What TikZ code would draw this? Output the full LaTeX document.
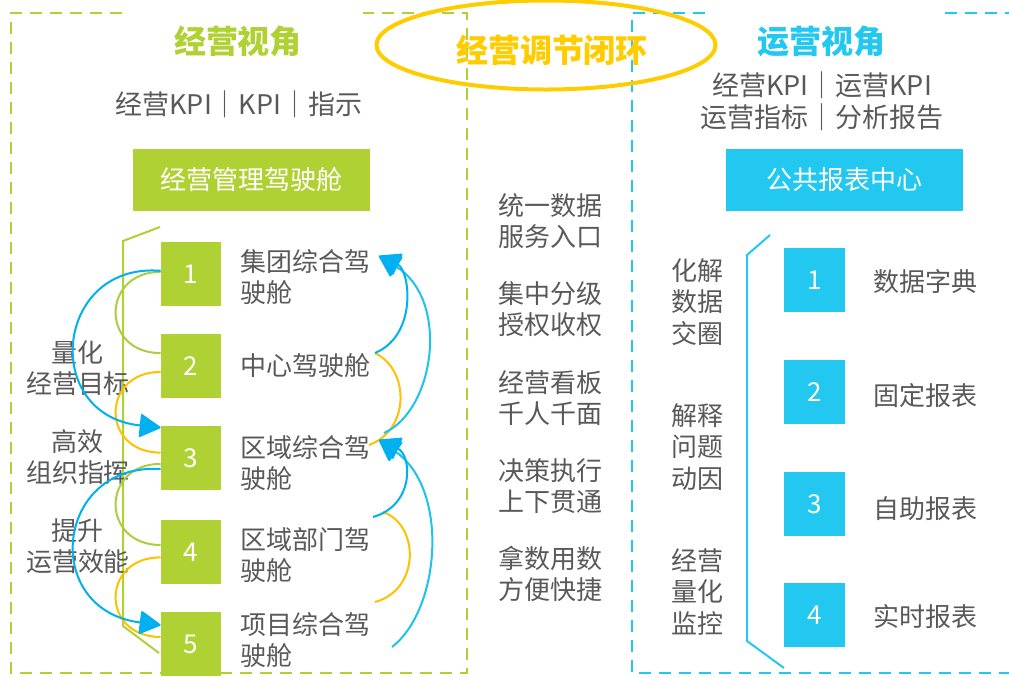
\documentclass[tikz,border=0pt]{standalone}
\usepackage{fontspec}
\setmainfont{Noto Sans CJK SC}
\usetikzlibrary{arrows.meta,shapes.geometric}
\definecolor{jygreen}{HTML}{B0D134}
\definecolor{arcgreen}{HTML}{A9CF3F}
\definecolor{yyblue}{HTML}{22C8F0}
\definecolor{arrblue}{HTML}{00B0F0}
\definecolor{ltblue}{HTML}{1FC2EE}
\definecolor{arcorange}{HTML}{FFC000}
\definecolor{loopgold}{HTML}{FFCC00}
\definecolor{txtgray}{HTML}{595959}
\tikzset{
  title/.style={font=\fontsize{16}{18}\selectfont\bfseries, inner sep=0pt},
  lbl/.style={text=txtgray, font=\fontsize{13}{15.5}\selectfont, inner sep=0pt},
  bigbox/.style={minimum width=118.5pt, minimum height=31pt, inner sep=0pt,
    text=white, font=\fontsize{13}{15}\selectfont},
  numbox/.style={minimum width=30pt, minimum height=32pt, inner sep=0pt,
    text=white, font=\fontsize{13}{15}\selectfont},
  frame/.style={line width=1.2pt, dash pattern=on 6pt off 4pt},
  garc/.style={arcgreen, line width=1pt},
  oarc/.style={arcorange, line width=1pt},
  barr/.style={arrblue, line width=1pt,
    -{Triangle[length=11pt,width=12pt,round,color=arrblue,fill=arrblue]}},
}
\begin{document}
\begin{tikzpicture}[x=0.5pt, y=-0.5pt]
\useasboundingbox (0,0) rectangle (1009,677);
% frames
\draw[frame, jygreen] (122,13) -- (11,13) -- (11,673) -- (467,673) -- (467,13) -- (363,13);
\draw[frame, yyblue] (705,13) -- (632,13) -- (632,673) -- (1009,673);
\draw[frame, yyblue] (945,13) -- (1009,13);
% loop
\node[draw=loopgold, line width=2pt, ellipse, minimum width=169.5pt, minimum height=44.5pt] (loop) at (546,45) {};
\node[title, text=loopgold] (looptext) at (552,50) {经营调节闭环};

% left panel
\node[title, text=jygreen] (ltitle) at (238,41) {经营视角};
\node[lbl, font=\fontsize{13.5}{16}\selectfont] (lsub) at (239,104) {经营KPI｜KPI｜指示};
\node[bigbox, fill=jygreen] (lbox) at (251.5,180) {经营管理驾驶舱};
\draw[jygreen, line width=1pt] (160,227) -- (123,241) -- (123,626) -- (159,653);
\foreach \i/\y in {1/274,2/366,3/458,4/552,5/644}
  \node[numbox, fill=jygreen] (b\i) at (191,\y) {\i};
\node[lbl, anchor=west, align=left] (l1) at (240,277) {集团综合驾\\驶舱};
\node[lbl, anchor=west] (l2) at (240,366) {中心驾驶舱};
\node[lbl, anchor=west, align=left] (l3) at (240,463) {区域综合驾\\驶舱};
\node[lbl, anchor=west, align=left] (l4) at (240,555) {区域部门驾\\驶舱};
\node[lbl, anchor=west, align=left] (l5) at (240,640) {项目综合驾\\驶舱};
\node[lbl, align=center] (g1) at (78,368) {量化\\经营目标};
\node[lbl, align=center] (g2) at (78,457) {高效\\组织指挥};
\node[lbl, align=center] (g3) at (78,546) {提升\\运营效能};
% arcs left
\draw[garc] (b1.176) .. controls +(-60,0) and +(-60,0) .. (b2.157);
\draw[oarc] (b2.191) .. controls +(-60,0) and +(-60,0) .. (b3.170);
\draw[garc] (b3.191) .. controls +(-60,0) and +(-60,0) .. (b4.167);
\draw[oarc] (b4.190) .. controls +(-60,0) and +(-60,0) .. (b5.167);
\draw[barr] (b1.174) .. controls (55,262) and (40,415) .. (b3.135);
\draw[barr] (b3.200) .. controls (55,462) and (40,610) .. (b5.148);
% arcs right
\coordinate (t1) at (379,256);
\coordinate (t3) at (379,440);
\coordinate (s2) at (375,353);
\coordinate (e3) at (369,445);
\coordinate (s3) at (384,433);
\coordinate (s4a) at (373,517);
\coordinate (s4b) at (383,512);
\coordinate (e5) at (375,602);
\coordinate (s5) at (392,647);
\draw[oarc] (s2) .. controls (410,370) and (410,430) .. (e3);
\draw[oarc] (s4b) .. controls (420,525) and (420,590) .. (e5);
\draw[barr, draw=ltblue] (s3) .. controls (435,410) and (450,300) .. (t1);
\draw[barr, draw=ltblue] (s5) .. controls (440,610) and (450,490) .. (t3);
\draw[barr] (s2) .. controls (418,335) and (410,270) .. (t1);
\draw[barr] (s4a) .. controls (415,505) and (412,455) .. (t3);

% middle
\node[lbl, align=center] (m1) at (550,221) {统一数据\\服务入口};
\node[lbl, align=center] (m2) at (550,309) {集中分级\\授权收权};
\node[lbl, align=center] (m3) at (550,398) {经营看板\\千人千面};
\node[lbl, align=center] (m4) at (550,486) {决策执行\\上下贯通};
\node[lbl, align=center] (m5) at (550,574) {拿数用数\\方便快捷};

% right panel
\node[title, text=yyblue] (rtitle) at (821,41) {运营视角};
\node[lbl, align=center, font=\fontsize{13.5}{16}\selectfont] (rsub) at (822,101) {经营KPI｜运营KPI\\运营指标｜分析报告};
\node[bigbox, fill=yyblue] (rbox) at (844.5,180) {公共报表中心};
\draw[yyblue, line width=1pt] (770,235) -- (747,255) -- (747,641) -- (784,668);
\foreach \i/\y in {1/280,2/392,3/504,4/615}
  \node[numbox, fill=yyblue, minimum width=30.5pt] (c\i) at (814.5,\y) {\i};
\node[lbl, anchor=west] (d1) at (873,282) {数据字典};
\node[lbl, anchor=west] (d2) at (873,396) {固定报表};
\node[lbl, anchor=west] (d3) at (873,509) {自助报表};
\node[lbl, anchor=west] (d4) at (873,617) {实时报表};
\node[lbl, align=center, font=\fontsize{13}{15.75}\selectfont] (e1) at (697,302) {化解\\数据\\交圈};
\node[lbl, align=center, font=\fontsize{13}{15.75}\selectfont] (e2) at (697,447) {解释\\问题\\动因};
\node[lbl, align=center, font=\fontsize{13}{15.75}\selectfont] (e3) at (697,592) {经营\\量化\\监控};
\end{tikzpicture}
\end{document}
